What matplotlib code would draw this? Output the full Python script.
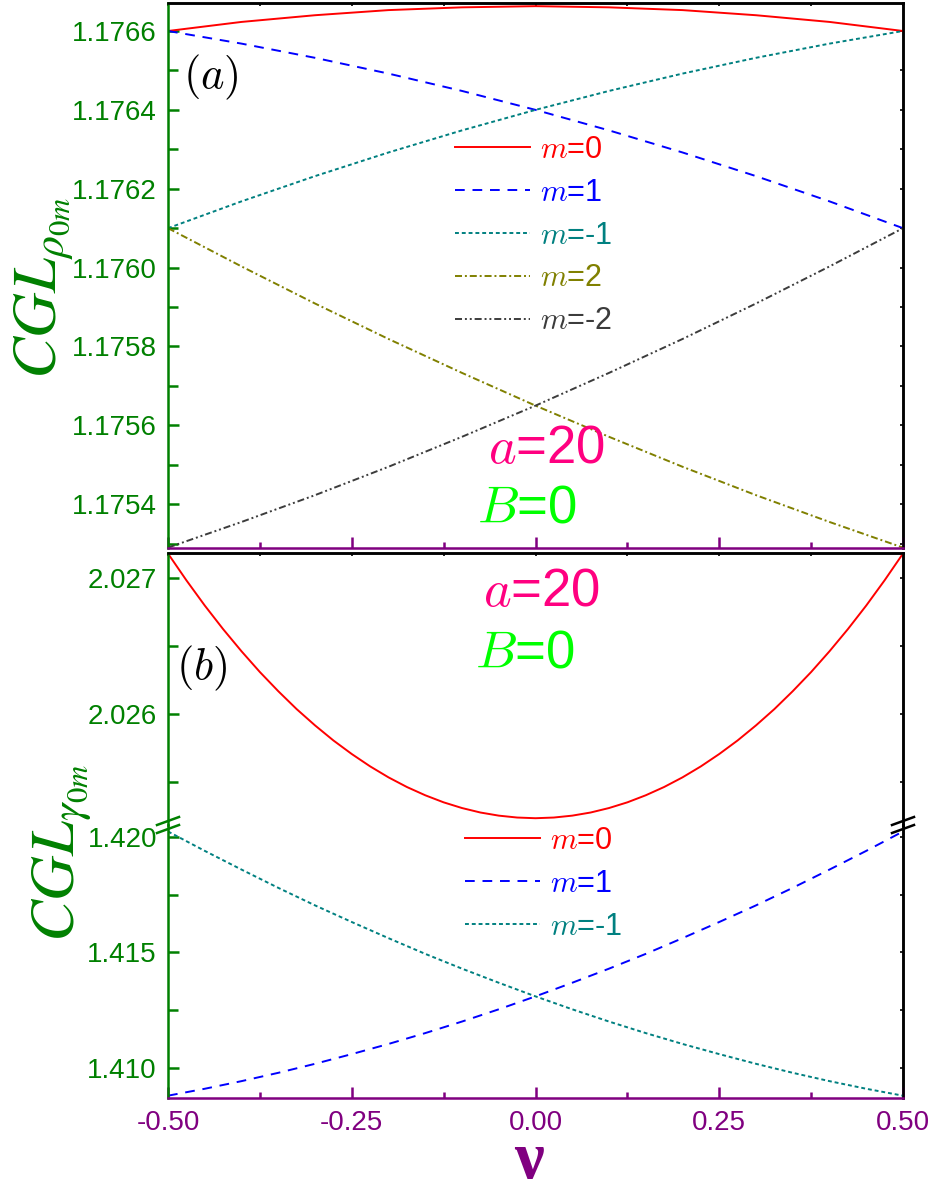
import matplotlib
matplotlib.use("Agg")
import matplotlib.pyplot as plt
from matplotlib.ticker import MultipleLocator, FormatStrFormatter
from matplotlib.lines import Line2D

plt.rcParams['font.family'] = ['Liberation Sans', 'DejaVu Sans']
plt.rcParams['mathtext.fontset'] = 'cm'
plt.rcParams['mathtext.bf'] = 'Liberation Serif:bold'

GREEN = '#008000'
PURPLE = '#800080'
PINK = '#FF0080'
LIME = '#00FF00'

# nu grids
nu = [-0.5, -0.4, -0.3, -0.2, -0.1, 0.0, 0.1, 0.2, 0.3, 0.4, 0.5]
nu_b = [-0.5, -0.45, -0.4, -0.35, -0.3, -0.25, -0.2, -0.15, -0.1, -0.05, 0.0,
        0.05, 0.1, 0.15, 0.2, 0.25, 0.3, 0.35, 0.4, 0.45, 0.5]
nu_fine = [-0.5, -0.475, -0.45, -0.425, -0.4, -0.375, -0.35, -0.325, -0.3, -0.275,
           -0.25, -0.225, -0.2, -0.175, -0.15, -0.125, -0.1, -0.075, -0.05, -0.025,
           0.0, 0.025, 0.05, 0.075, 0.1, 0.125, 0.15, 0.175, 0.2, 0.225,
           0.25, 0.275, 0.3, 0.325, 0.35, 0.375, 0.4, 0.425, 0.45, 0.475, 0.5]

# (a) CGL of rho_0m
rho_m0 = [1.176600, 1.176623, 1.176640, 1.176653, 1.176660, 1.176663,
          1.176660, 1.176653, 1.176640, 1.176623, 1.176600]
rho_m1 = [1.176600, 1.176568, 1.176532, 1.176492, 1.176448, 1.176400,
          1.176348, 1.176292, 1.176232, 1.176168, 1.176100]
rho_mm1 = [1.176100, 1.176168, 1.176232, 1.176292, 1.176348, 1.176400,
           1.176448, 1.176492, 1.176532, 1.176568, 1.176600]
rho_m2 = [1.176100, 1.176003, 1.175909, 1.175819, 1.175733, 1.175650,
          1.175571, 1.175495, 1.175423, 1.175355, 1.175290]
rho_mm2 = [1.175290, 1.175355, 1.175423, 1.175495, 1.175571, 1.175650,
           1.175733, 1.175819, 1.175909, 1.176003, 1.176100]

# (b) CGL of gamma_0m (broken axis)
gam_m0 = [2.027180, 2.026983, 2.026797, 2.026623, 2.026460, 2.026307, 2.026166,
          2.026034, 2.025914, 2.025803, 2.025703, 2.025612, 2.025531, 2.025460,
          2.025399, 2.025347, 2.025305, 2.025272, 2.025249, 2.025235, 2.025230,
          2.025235, 2.025249, 2.025272, 2.025305, 2.025347, 2.025399, 2.025460,
          2.025531, 2.025612, 2.025703, 2.025803, 2.025914, 2.026034, 2.026166,
          2.026307, 2.026460, 2.026623, 2.026797, 2.026983, 2.027180]
gam_m1 = [1.40880, 1.40910, 1.40943, 1.40979, 1.41018, 1.41060, 1.41104,
          1.41151, 1.41201, 1.41254, 1.41310, 1.41369, 1.41430, 1.41494,
          1.41562, 1.41632, 1.41704, 1.41780, 1.41859, 1.41940, 1.42024]
gam_mm1 = [1.42024, 1.41940, 1.41859, 1.41780, 1.41704, 1.41632, 1.41562,
           1.41494, 1.41430, 1.41369, 1.41310, 1.41254, 1.41201, 1.41151,
           1.41104, 1.41060, 1.41018, 1.40979, 1.40943, 1.40910, 1.40880]

W, H = 933, 1186
fig = plt.figure(figsize=(W / 100, H / 100), dpi=100)


def box(x0, y0, x1, y1):
    return [x0 / W, 1 - y1 / H, (x1 - x0) / W, (y1 - y0) / H]


def px(x, y):
    return x / W, 1 - y / H


def frame(ax, ylim, ymajor, yminor, yfmt, top=True, bottom=True, xlabels=False):
    ax.set_facecolor('none')
    ax.set_xlim(-0.5, 0.5)
    ax.set_ylim(*ylim)
    ax.xaxis.set_major_locator(MultipleLocator(0.25))
    ax.xaxis.set_minor_locator(MultipleLocator(0.125))
    ax.xaxis.set_major_formatter(FormatStrFormatter('%.2f'))
    ax.yaxis.set_major_locator(MultipleLocator(ymajor))
    ax.yaxis.set_minor_locator(MultipleLocator(yminor))
    ax.yaxis.set_major_formatter(FormatStrFormatter(yfmt))
    ax.tick_params(axis='y', which='both', direction='in', colors=GREEN,
                   width=1.8, labelsize=20, pad=8, right=False)
    ax.tick_params(axis='y', which='major', length=8)
    ax.tick_params(axis='y', which='minor', length=7)
    ax.tick_params(axis='x', which='both', direction='in', colors=PURPLE,
                   width=1.8, labelsize=20, pad=9, top=False,
                   bottom=bottom, labelbottom=xlabels)
    ax.tick_params(axis='x', which='major', length=8)
    ax.tick_params(axis='x', which='minor', length=4.5)
    for s in ax.spines.values():
        s.set_linewidth(1.8)
    ax.spines['left'].set_color(GREEN)
    ax.spines['bottom'].set_color(PURPLE)
    ax.spines['bottom'].set_visible(bottom)
    ax.spines['top'].set_visible(top)

    rt = ax.secondary_yaxis('right')
    rt.yaxis.set_major_locator(MultipleLocator(ymajor))
    rt.yaxis.set_minor_locator(MultipleLocator(yminor))
    rt.tick_params(which='both', direction='in', length=2.5, width=1.2,
                   colors='black', labelright=False)
    rt.spines['right'].set_linewidth(1.8)
    if top:
        tp = ax.secondary_xaxis('top')
        tp.xaxis.set_major_locator(MultipleLocator(0.25))
        tp.xaxis.set_minor_locator(MultipleLocator(0.125))
        tp.tick_params(which='both', direction='in', length=2.5, width=1.2,
                       colors='black', labeltop=False)
        tp.spines['top'].set_linewidth(1.8)


ax_a = fig.add_axes(box(168, 3, 903, 548))
ax_bt = fig.add_axes(box(168, 553, 903, 825))
ax_bb = fig.add_axes(box(168, 825, 903, 1098))

frame(ax_a, (1.175289, 1.176671), 0.0002, 0.0001, '%.4f')
frame(ax_bt, (2.02518, 2.027184), 0.001, 0.0005, '%.3f', bottom=False)
frame(ax_bb, (1.4087, 1.42052), 0.005, 0.0025, '%.3f', top=False, xlabels=True)

lw = 1.4
ax_a.plot(nu, rho_m0, color='red', lw=lw, label=r'$m$=0')
ax_a.plot(nu, rho_m1, color='blue', lw=lw, dashes=(5, 4), label=r'$m$=1')
ax_a.plot(nu, rho_mm1, color='#008080', lw=lw, dashes=(2, 1.5), label=r'$m$=-1')
ax_a.plot(nu, rho_m2, color='#808000', lw=lw, dashes=(3.6, 1.5, 1, 1.5), label=r'$m$=2')
ax_a.plot(nu, rho_mm2, color='#3C3C3C', lw=lw, dashes=(3.6, 1.5, 1, 1.5, 1, 1.5),
          label=r'$m$=-2')

l0, = ax_bt.plot(nu_fine, gam_m0, color='red', lw=lw, label=r'$m$=0')
l1, = ax_bb.plot(nu_b, gam_m1, color='blue', lw=lw, dashes=(5, 4), label=r'$m$=1')
l2, = ax_bb.plot(nu_b, gam_mm1, color='#008080', lw=lw, dashes=(2, 1.5), label=r'$m$=-1')

leg_kw = dict(loc='upper left', bbox_transform=fig.transFigure, frameon=False,
              fontsize=22, handlelength=2.45, handletextpad=0.33,
              labelspacing=0.42, borderpad=0, borderaxespad=0,
              labelcolor='linecolor')
ax_a.legend(bbox_to_anchor=px(455, 135), **leg_kw)
ax_bb.legend(handles=[l0, l1, l2], bbox_to_anchor=px(465, 826), **leg_kw)

# panel tags and parameters
fig.text(*px(211, 77), r'$(a)$', fontsize=32, ha='center', va='center')
fig.text(*px(202, 668), r'$(b)$', fontsize=32, ha='center', va='center')
fig.text(*px(547, 463), r'$a$=20', color=PINK, fontsize=38, ha='center', va='baseline')
fig.text(*px(527, 523), r'$B$=0', color=LIME, fontsize=38, ha='center', va='baseline')
fig.text(*px(542, 606), r'$a$=20', color=PINK, fontsize=38, ha='center', va='baseline')
fig.text(*px(525, 667), r'$B$=0', color=LIME, fontsize=38, ha='center', va='baseline')

# axis titles
fig.text(*px(44, 288), r'$CGL_{\rho_{0m}}$', rotation=90, ha='center', va='center',
         color=GREEN, fontsize=45, math_fontfamily='stix')
fig.text(*px(62, 853), r'$CGL_{\gamma_{0m}}$', rotation=90, ha='center', va='center',
         color=GREEN, fontsize=45, math_fontfamily='stix')
fig.text(*px(529, 1178), r'$\mathbf{\nu}$', math_fontfamily='custom',
         fontsize=48, color=PURPLE, ha='center', va='baseline')

# break marks on the gamma axis
for xc, col in ((168, GREEN), (903, 'black')):
    for yc in (821, 829):
        fig.add_artist(Line2D([(xc - 11) / W, (xc + 11) / W],
                              [1 - (yc + 4) / H, 1 - (yc - 4) / H],
                              color=col, lw=1.8))

fig.savefig('out.png', dpi=100)
